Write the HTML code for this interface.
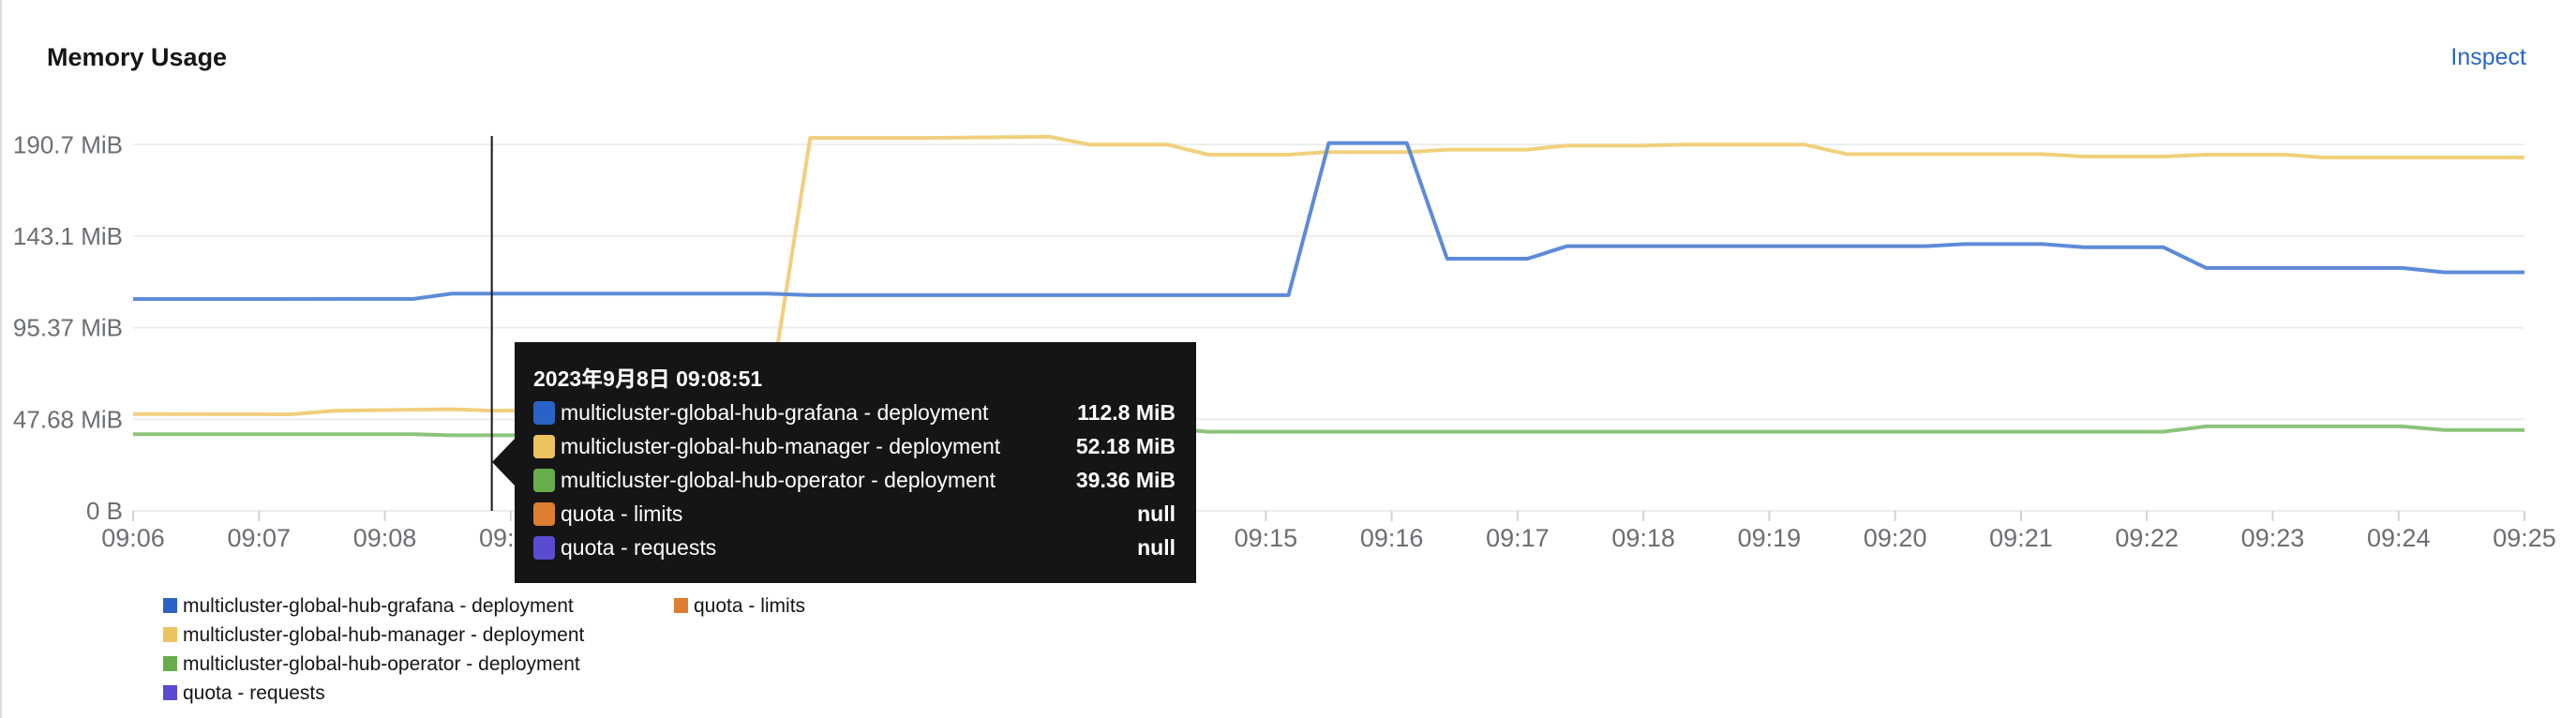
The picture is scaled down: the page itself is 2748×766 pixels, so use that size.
<!DOCTYPE html>
<html><head><meta charset="utf-8">
<style>
html,body{margin:0;padding:0;background:#fff;}
body{width:2748px;height:766px;position:relative;overflow:hidden;font-family:"Liberation Sans","Noto Sans CJK JP",sans-serif;}
#card-border{position:absolute;left:0;top:0;width:2px;height:766px;background:#d9d9d9;}
#title{position:absolute;left:50px;top:46px;font-size:27px;font-weight:bold;color:#151515;}
#inspect{position:absolute;right:53px;top:47px;font-size:25px;color:#2b66c4;cursor:pointer;}
svg{position:absolute;left:0;top:0;}
</style></head>
<body>
<div id="card-border"></div>
<div id="title">Memory Usage</div>
<div id="inspect">Inspect</div>
<svg id="chart" width="2748" height="766"></svg>
<script>
// time in minutes since 09:06:00
const grafanaT = [0,2.23,2.53,5.04,5.38,9.18,9.5,10.12,10.44,11.08,11.39,14.24,14.55,15.17,15.5,16.13,16.47,18.03,18.36,19];
const grafanaV = [110.3,110.4,113.1,113.1,112.3,112.3,191.5,191.5,131.3,131.3,137.8,137.8,138.9,138.9,137.3,137.3,126.5,126.5,124.2,124.2];
const managerT = [0,1.26,1.59,2.53,2.85,5.04,5.38,6.34,7.28,7.6,8.22,8.54,9.18,9.48,10.13,10.44,11.08,11.39,11.98,12.32,13.28,13.62,15.17,15.5,16.13,16.47,17.1,17.4,19];
const managerV = [50.4,50.3,52.1,52.9,52.18,52.5,194.2,194.2,194.8,190.7,190.7,185.5,185.5,186.8,186.8,188.1,188.1,190.2,190.2,190.7,190.7,185.7,185.7,184.5,184.5,185.5,185.5,184,184];
const operatorT = [0,2.23,2.53,5.04,5.38,8.22,8.54,16.13,16.47,18.03,18.36,19];
const operatorV = [39.9,39.9,39.36,39.4,43,43,41.2,41.2,44,44,42.1,42.1];
const yTicks = [0,47.68,95.37,143.1,190.7];
const yTickLabels = ["0 B","47.68 MiB","95.37 MiB","143.1 MiB","190.7 MiB"];
const xTickLabels = ["09:06","09:07","09:08","09:09","09:10","09:11","09:12","09:13","09:14","09:15","09:16","09:17","09:18","09:19","09:20","09:21","09:22","09:23","09:24","09:25"];
const tooltipTitle = "2023年9月8日 09:08:51";
const tooltipNames = ["multicluster-global-hub-grafana - deployment","multicluster-global-hub-manager - deployment","multicluster-global-hub-operator - deployment","quota - limits","quota - requests"];
const tooltipValues = ["112.8 MiB","52.18 MiB","39.36 MiB","null","null"];
const cursorT = 2.85;

const NS="http://www.w3.org/2000/svg";
const svg=document.getElementById('chart');
const X0=142,X1=2693,Y0=545,Y190=154.3;
const xs=t=>X0+(X1-X0)*t/19;
const ys=v=>Y0-(Y0-Y190)*v/190.7;
function mk(tag,attrs,parent){const e=document.createElementNS(NS,tag);for(const k in attrs)e.setAttribute(k,attrs[k]);(parent||svg).appendChild(e);return e;}

yTicks.forEach((v,i)=>{
  const g=mk('line',{x1:X0,x2:X1,y1:ys(v),y2:ys(v),stroke:'#ececec','stroke-width':2});
  
  
  const t=mk('text',{x:131,y:ys(v)+9,'text-anchor':'end','font-size':26,fill:'#6a6e73'});
  t.textContent=yTickLabels[i];
  
  
});
xTickLabels.forEach((l,i)=>{
  const x=xs(i);
  const tk=mk('line',{x1:x,x2:x,y1:Y0,y2:Y0+11,stroke:'#d2d2d2','stroke-width':2});
  
  
  const t=mk('text',{x:x,y:583,'text-anchor':'middle','font-size':27,fill:'#6a6e73'});
  t.textContent=l;
  
  
});
function series(T,V,color,name){
  const p=mk('polyline',{points:T.map((t,i)=>xs(t)+','+ys(V[i])).join(' '),fill:'none',stroke:color,'stroke-width':4,'stroke-linejoin':'round'});
  
  
}
series(operatorT,operatorV,'#8cc47a','operator-line');
series(managerT,managerV,'#f1cf7c','manager-line');
series(grafanaT,grafanaV,'#5d8bd8','grafana-line');

const cx=xs(cursorT);
const cur=mk('line',{x1:cx,x2:cx,y1:145,y2:Y0,stroke:'#151515','stroke-width':2});



// tooltip
const tg=mk('g',{});


mk('rect',{x:549,y:365,width:727,height:257,fill:'#151515'},tg);
mk('polygon',{points:'525,493 549,468 549,518',fill:'#151515'},tg);
const tt=mk('text',{x:569,y:412,'font-size':23,'font-weight':'bold',fill:'#fff','font-family':'"Liberation Sans","Noto Sans CJK JP",sans-serif'},tg);
tt.textContent=tooltipTitle;


const swc=['#2b62c8','#ecc35f','#67ad4b','#dd7f32','#5a4bd0'];
tooltipNames.forEach((n,i)=>{
  const cy=440+i*36;
  const s=mk('rect',{x:569,y:cy-12,width:23,height:25,rx:4,fill:swc[i]},tg);
  
  
  const a=mk('text',{x:598,y:cy+8,'font-size':23,fill:'#fff'},tg);
  a.textContent=n;
  
  
  const b=mk('text',{x:1254,y:cy+8,'font-size':23,'font-weight':'bold',fill:'#fff','text-anchor':'end'},tg);
  b.textContent=tooltipValues[i];
  
  
});

// legend
const legendNames=["multicluster-global-hub-grafana - deployment","multicluster-global-hub-manager - deployment","multicluster-global-hub-operator - deployment","quota - requests","quota - limits"];
const legendPos=[[174,646],[174,677],[174,708],[174,739],[719,646]];
const legendCol=['#2b62c8','#ecc35f','#67ad4b','#5a4bd0','#dd7f32'];
legendNames.forEach((n,i)=>{
  const [lx,ly]=legendPos[i];
  const g=mk('g',{});
  
  
  mk('rect',{x:lx,y:ly-8,width:15,height:16,fill:legendCol[i]},g);
  const t=mk('text',{x:lx+21,y:ly+7,'font-size':21,fill:'#151515'},g);
  t.textContent=n;
});
</script>
</body></html>
